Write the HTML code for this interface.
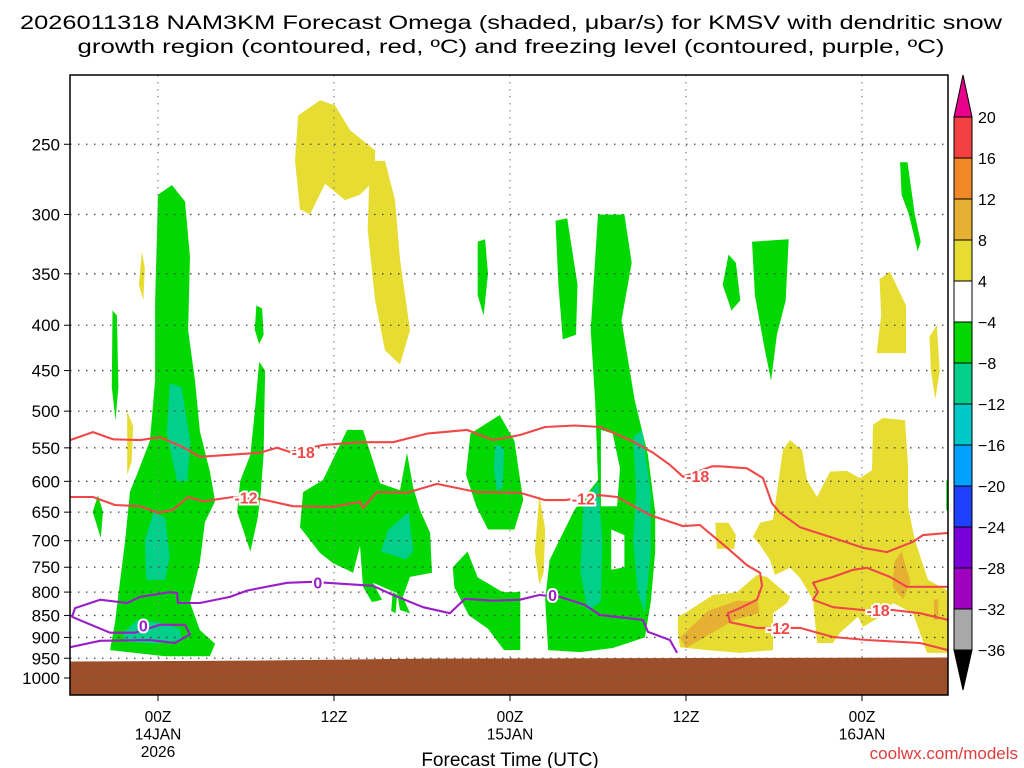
<!DOCTYPE html>
<html><head><meta charset="utf-8"><style>
html,body{margin:0;padding:0;background:#fff;width:1024px;height:768px;overflow:hidden}
svg{display:block;font-family:"Liberation Sans",sans-serif}
</style></head><body>
<svg id="chart" width="1024" height="768" viewBox="0 0 1024 768">
<text x="511" y="29" font-size="19.5" text-anchor="middle" textLength="982" lengthAdjust="spacingAndGlyphs">2026011318 NAM3KM Forecast Omega (shaded, μbar/s) for KMSV with dendritic snow</text>
<text x="511" y="53" font-size="19.5" text-anchor="middle" textLength="867" lengthAdjust="spacingAndGlyphs">growth region (contoured, red, ºC) and freezing level (contoured, purple, ºC)</text>
<g id="plot"></g>
<rect x="70" y="75" width="878" height="620" fill="none" stroke="#000" stroke-width="1.5"/>
<g id="axes"></g>
<g id="cbar"></g>
<text x="510" y="766" font-size="19" text-anchor="middle">Forecast Time (UTC)</text>
<text x="1018" y="759" font-size="17" text-anchor="end" fill="#e03c3c">coolwx.com/models</text>
</svg>
<script>
// ---- data ----
const pressureTicks = [250,300,350,400,450,500,550,600,650,700,750,800,850,900,950,1000];
const timeTickHours = [0,12,24,36,48];
const timeTickLabels = [["00Z","14JAN","2026"],["12Z"],["00Z","15JAN"],["12Z"],["00Z","16JAN"]];
const cbarLevels = ["20","16","12","8","4","\u22124","\u22128","\u221212","\u221216","\u221220","\u221224","\u221228","\u221232","\u221236"];
const cbarColors = ["#f44040","#f08828","#e6b032","#e6dc32","#ffffff","#00d800","#00d08a","#00c8c8","#00a0ff","#2040ff","#7a00d8","#a000c0","#a8a8a8"];
const sfcHours = [-6,6,18,30,42,54];
const sfcPres = [958,956,951,950,949,948];
const greenBlobs = [
 [[0,285],[0.95,278],[1.84,290],[2.18,335],[2.05,405],[2.52,462],[2.86,527],[3.54,585],[3.89,632],[3.2,667],[2.86,740],[2.18,822],[2.86,883],[3.89,915],[3.54,945],[0.48,945],[-3.27,930],[-2.93,866],[-2.73,812],[-2.25,702],[-1.91,616],[-1.36,585],[-0.55,540],[-0.2,462],[-0.2,377]],
 [[-3.1,385],[-2.8,390],[-2.7,470],[-2.9,512],[-3.15,470]],
 [[-4.1,622],[-3.75,650],[-3.9,695],[-4.45,650]],
 [[6.7,380],[7.1,383],[7.2,410],[6.9,420],[6.6,405]],
 [[6.9,440],[7.3,450],[7.2,560],[7.0,620],[6.8,660],[6.3,720],[5.4,650],[5.6,600],[6.3,560],[6.6,500]],
 [[9.89,617],[11.25,598],[12.89,525],[13.98,525],[15.14,603],[16.5,614],[16.98,557],[17.39,609],[17.86,646],[18.55,686],[18.68,761],[17.18,769],[16.7,810],[17.18,845],[16.5,838],[16.3,802],[14.66,781],[15.27,816],[14.59,821],[13.98,789],[13.77,709],[13.3,761],[11.93,742],[11.05,723],[9.68,676]],
 [[16.0,800],[16.3,805],[16.2,845],[15.9,840]],
 [[21.3,530],[23.3,505],[24.3,540],[24.7,600],[24.9,630],[24.3,680],[22.5,680],[21.7,640],[21.0,590],[21.2,550]],
 [[21.8,322],[22.3,320],[22.5,350],[22.2,390],[21.8,370]],
 [[20.1,750],[21.1,720],[21.8,770],[23.5,800],[24.7,800],[24.7,930],[23.6,930],[22.5,880],[21.2,850],[20.2,790]],
 [[27.1,305],[27.9,303],[28.6,360],[28.5,410],[27.6,415],[27.3,360]],
 [[30,300],[31.8,300],[32.3,340],[31.6,395],[32.5,486],[33.4,560],[33.9,650],[33.9,720],[33.6,820],[33.2,900],[31,925],[28.8,935],[26.6,930],[26.4,816],[26.7,736],[28.4,646],[30,598],[29.8,486],[29.5,405],[29.8,338]],
 [[38.9,333],[39.4,340],[39.7,375],[39.1,385],[38.5,360]],
 [[40.5,322],[43,320],[42.8,375],[42.2,410],[41.8,462],[41.3,420],[40.7,370]],
 [[50.6,262],[51.1,262],[51.6,300],[52,322],[51.8,330],[51.2,300],[50.7,285]],
 [[53.75,600],[53.86,595],[53.86,650],[53.75,645]]
];
const whiteHoles = [
 [[30.2,525],[31,530],[31.5,580],[31.3,640],[30.2,640]],
 [[30.9,680],[31.8,690],[31.8,750],[30.9,755]]
];
const tealBlobs = [
 [[0.8,465],[1.6,470],[2.2,540],[2,600],[1.3,600],[0.6,530]],
 [[-0.3,650],[0.5,660],[0.8,730],[0.5,775],[-0.8,775],[-0.9,700]],
 [[-2.4,890],[-1.4,860],[0,865],[1.5,880],[1.6,905],[0,915],[-2.2,910]],
 [[15.7,680],[17.1,650],[17.4,720],[16.9,735],[15.2,720]],
 [[23.0,545],[23.6,550],[23.5,610],[23.1,615],[22.9,580]],
 [[32.4,535],[33,525],[33.6,620],[33.6,720],[33.2,845],[32.7,800],[32.4,700],[32.6,620]],
 [[29,640],[30,600],[30.3,700],[30.2,820],[29.3,840],[28.8,760]]
];
const yellowBlobs = [
 [[9.55,232],[11.05,223],[12.07,226],[13.1,241],[14.8,254],[14.8,274],[13.77,285],[12.75,289],[11.39,277],[10.36,300],[9.68,296],[9.34,261]],
 [[14.45,261],[15.48,261],[16.16,289],[16.5,337],[17.18,405],[16.5,443],[15.48,427],[14.8,375],[14.3,312]],
 [[-1.1,330],[-0.9,345],[-1,375],[-1.3,360]],
 [[-2.1,500],[-1.7,520],[-1.8,570],[-2.1,590]],
 [[26,622],[26.4,680],[26.3,760],[26,785],[25.7,720]],
 [[40.57,693],[41.05,668],[41.93,663],[42.61,553],[43.09,539],[43.9,553],[44.25,598],[44.93,625],[45.82,585],[46.98,584],[47.86,595],[48.68,583],[48.75,518],[49.43,509],[50.93,512],[51.14,578],[51.14,641],[51.61,699],[52.5,775],[53.8,796],[53.86,937],[52.43,937],[51.48,845],[50.11,823],[49.23,853],[48.07,876],[47.73,853],[46.5,889],[46.02,913],[44.93,913],[44.66,816],[43.77,771],[43.09,751],[42.07,765],[41.73,736],[41.05,708]],
 [[38,668],[38.9,668],[39.4,690],[39.3,715],[38.1,715]],
 [[35.45,853],[36.07,842],[37.84,806],[39.48,800],[40.84,765],[41.52,769],[43.09,810],[42.89,823],[41.93,845],[41.93,930],[39.68,937],[37.43,930],[35.59,923],[35.45,889]],
 [[49.2,355],[49.9,348],[51,380],[51,430],[49,430],[49.3,390]],
 [[52.6,412],[53.1,400],[53.3,450],[53,485],[52.7,450]]
];
const goldBlobs = [
 [[35.6,900],[37.5,840],[39.5,818],[40.9,820],[41,845],[39.3,860],[37.5,895],[36,925]],
 [[50.2,740],[50.7,720],[51.3,780],[50.8,815],[50.1,790]],
 [[52.9,816],[53.2,815],[53.2,860],[52.9,860]]
];
const minus18Upper = [[-6,539],[-4.43,528],[-3.07,538],[-1.23,539],[0.14,535],[1.7,549],[2.86,563],[6.95,557],[8.11,550],[9,556],[11.25,546],[13.77,542],[16.02,542],[18.34,530],[21.07,525],[22.84,539],[24.68,532],[26.39,521],[28.43,519],[30.14,521],[30.95,528],[32.39,541],[33.75,557],[34.9,575],[35.8,593],[37.77,577],[38.32,577],[40.16,580],[41.25,595],[41.86,635],[42.4,651],[43.77,676],[46.02,695],[48.07,713],[49.7,721],[51.48,702],[52.16,690],[53.86,686]];
const minus12Line = [[-6,625],[-4.43,625],[-2.93,638],[-1.23,640],[0,651],[1.02,646],[2.05,625],[3.07,632],[5.11,625],[6.95,628],[9.2,640],[11.93,641],[13.77,633],[13.98,643],[14.93,617],[16.98,618],[19.02,604],[21.75,617],[24.68,618],[26.39,630],[27.75,630],[30.14,622],[31.3,625],[33.55,655],[35.8,674],[36.95,672],[38.8,713],[40.16,746],[41.05,761],[41.18,787],[40.84,816],[39.68,834],[38.86,845],[39,865],[40.84,878],[43.77,878],[46.02,899],[48.34,906],[51.95,913],[53.86,930]];
const minus18Lower = [[53.86,789],[51.07,789],[49.9,769],[48.34,751],[47.39,755],[46.02,769],[44.66,781],[45,800],[44.66,816],[46.02,832],[48.07,838],[50.1,838],[51.95,845],[53.86,860]];
const zeroLine = [[-6,923],[-3.95,908],[-0.55,906],[1.16,913],[2.18,893],[1.84,871],[0.14,871],[-1.57,889],[-3.27,889],[-4.84,867],[-5.86,853],[-5.66,834],[-3.95,816],[-2.11,823],[-1.23,810],[0.82,800],[1.3,802],[1.36,823],[2.86,823],[4.91,810],[6.07,797],[8.8,781],[10.57,779],[11.52,781],[14.66,787],[16.02,806],[18.07,832],[19.9,845],[20.93,814],[22.84,818],[24.68,816],[26,806],[27.4,810],[29.1,827],[30.14,849],[31.2,853],[33.07,860],[33.4,887],[34.9,906],[35.39,937]];
const contourLabels = [["-18",9.9,556,"#f04848"],["-12",6.0,626,"#f04848"],["-12",29,627,"#f04848"],["-18",36.8,592,"#f04848"],["-12",42.3,878,"#f04848"],["-18",49.1,838,"#f04848"],["0",10.9,780,"#9a1ec8"],["0",26.9,806,"#9a1ec8"],["0",-1,873,"#9a1ec8"]];

// ---- scales ----
const X0=70, X1=948, Y0=75, Y1=695;
function xOf(h){return 158 + h*176/12;}
function yOf(p){return 678 - 385*Math.log(1000/p);}
const NS="http://www.w3.org/2000/svg";
const plot=document.getElementById('plot'), axes=document.getElementById('axes'), cbar=document.getElementById('cbar');
function mk(tag, attrs, parent){const e=document.createElementNS(NS,tag);for(const k in attrs)e.setAttribute(k,attrs[k]);parent.appendChild(e);return e;}
function pts(arr){return arr.map(d=>xOf(d[0]).toFixed(1)+','+yOf(d[1]).toFixed(1)).join(' ');}

const defs=mk('defs',{},plot);
const cp=mk('clipPath',{id:'clip'},defs);
mk('rect',{x:X0,y:Y0,width:X1-X0,height:Y1-Y0},cp);
const g=mk('g',{'clip-path':'url(#clip)'},plot);

function blobs(list, color, name){
  list.forEach(b=>{
    const el=mk('polygon',{points:pts(b),fill:color},g);
    
    
  });
}
blobs(greenBlobs,'#00d800','omega-green-region');
blobs(whiteHoles,'#ffffff','omega-white-gap');
blobs(tealBlobs,'#00d08a','omega-teal-region');
blobs(yellowBlobs,'#e6dc32','omega-yellow-region');
blobs(goldBlobs,'#e6b032','omega-gold-region');

pressureTicks.forEach(p=>{
  const l=mk('line',{x1:X0,x2:X1,y1:yOf(p),y2:yOf(p),stroke:'#444','stroke-width':1.3,'stroke-dasharray':'1.5,6.5'},g);
  
  
});
timeTickHours.forEach(h=>{
  const l=mk('line',{x1:xOf(h),x2:xOf(h),y1:Y0,y2:Y1,stroke:'#888','stroke-width':1.2,'stroke-dasharray':'1.5,5.5'},g);
  
  
});

let gp='';
sfcHours.forEach((h,i)=>{gp+=xOf(h)+','+yOf(sfcPres[i])+' ';});
gp+=xOf(sfcHours[sfcHours.length-1])+','+Y1+' '+xOf(sfcHours[0])+','+Y1;
const ground=mk('polygon',{points:gp,fill:'#9c4f2a'},g);


pressureTicks.filter(p=>p>=960).forEach(p=>{
  mk('line',{x1:X0,x2:X1,y1:yOf(p),y2:yOf(p),stroke:'#555','stroke-width':1.3,'stroke-dasharray':'1.5,6.5'},g);
});

function line(arr,color,name){
  const el=mk('polyline',{points:pts(arr),fill:'none',stroke:color,'stroke-width':2.1,'stroke-linejoin':'round'},g);
  
  
}
line(minus18Upper,'#f04848','contour-minus18-upper');
line(minus12Line,'#f04848','contour-minus12');
line(minus18Lower,'#f04848','contour-minus18-lower');
line(zeroLine,'#9a1ec8','freezing-level-0c');
contourLabels.forEach(c=>{
  const t=mk('text',{x:xOf(c[1]),y:yOf(c[2])+6,'text-anchor':'middle','font-size':16,'font-weight':'bold',fill:c[3],stroke:'#fff','stroke-width':4,'paint-order':'stroke'},g);
  t.textContent=c[0];
  
  
});

pressureTicks.forEach(p=>{
  const t=mk('text',{x:60,y:yOf(p)+6,'text-anchor':'end','font-size':17},axes);
  t.textContent=p;
  
  
  mk('line',{x1:64,x2:70,y1:yOf(p),y2:yOf(p),stroke:'#000','stroke-width':1},axes);
});
timeTickHours.forEach((h,i)=>{
  mk('line',{x1:xOf(h),x2:xOf(h),y1:Y1,y2:Y1+6,stroke:'#000','stroke-width':1},axes);
  timeTickLabels[i].forEach((s,j)=>{
    const t=mk('text',{x:xOf(h),y:722+j*17.5,'text-anchor':'middle','font-size':15.5},axes);
    t.textContent=s;
    
    
  });
});

const CX=954, CW=18, CT=117, CH=41;
const tri1=mk('polygon',{points:`${CX},${CT} ${CX+CW/2},75 ${CX+CW},${CT}`,fill:'#e8008c',stroke:'#000','stroke-width':1},cbar);


cbarColors.forEach((c,i)=>{
  const r=mk('rect',{x:CX,y:CT+i*CH,width:CW,height:CH,fill:c,stroke:'#000','stroke-width':1},cbar);
  
  
});
const bot=CT+cbarColors.length*CH;
const tri2=mk('polygon',{points:`${CX},${bot} ${CX+CW/2},690 ${CX+CW},${bot}`,fill:'#000',stroke:'#000','stroke-width':1},cbar);


cbarLevels.forEach((s,i)=>{
  const t=mk('text',{x:978,y:CT+i*CH+6,'font-size':16},cbar);
  t.textContent=s;
  
  
});
</script>
</body></html>
